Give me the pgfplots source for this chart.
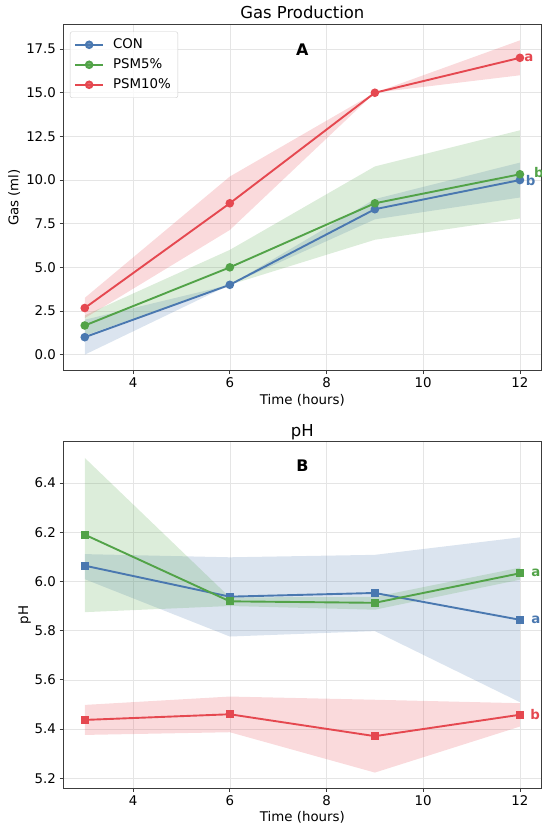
\documentclass[border=0pt]{standalone}
\usepackage{pgfplots}
\pgfplotsset{compat=1.18}
\usepackage{fontspec}
\setmainfont{DejaVu Sans}
\definecolor{cblue}{RGB}{74,120,176}
\definecolor{cgreen}{RGB}{82,163,72}
\definecolor{cred}{RGB}{229,72,80}
\definecolor{spine}{RGB}{60,60,60}
\begin{document}
\begin{tikzpicture}[x=1bp,y=1bp]
\useasboundingbox (0,0) rectangle (550,-830);
\pgfplotsset{
 myax/.style={
  scale only axis, width=478.7bp, height=346.4bp,
  xmin=2.55, xmax=12.45,
  xtick={4,6,8,10,12},
  tick align=outside, tick pos=left,
  major tick length=3.5bp,
  every tick/.style={spine, line width=0.8bp},
  axis line style={spine, line width=1.0bp},
  grid=major,
  major grid style={black!10, line width=0.6bp},
  tick label style={font=\fontsize{13.4}{15}\selectfont},
  /pgf/number format/assume math mode=true,
  xlabel={Time (hours)},
  xlabel style={font=\fontsize{13.4}{15}\selectfont, at={(axis description cs:0.5,0)}, anchor=base, yshift=-33.5bp},
  title style={font=\fontsize{16.5}{19}\selectfont, at={(axis description cs:0.5,1)}, anchor=base, yshift=-0.5bp},
  legend image code/.code={\draw[mark repeat=2,mark phase=2,#1] plot coordinates {(0bp,0bp) (14bp,0bp) (28bp,0bp)};},
 },
}
% ---------- Gas production ----------
\begin{axis}[myax,
  at={(63bp,-370.7bp)}, anchor=south west,
  ymin=-0.92, ymax=18.92,
  ytick={0,2.5,5,7.5,10,12.5,15,17.5},
  yticklabel style={/pgf/number format/.cd, fixed, fixed zerofill, precision=1},
  title={Gas Production},
  ylabel={Gas (ml)},
  ylabel style={font=\fontsize{13.4}{15}\selectfont, at={(axis description cs:-0.102,0.5)}, anchor=center},
  legend style={at={(axis description cs:0.0146,0.979)}, anchor=north west,
    draw=black!20, rounded corners=2bp, fill=white, fill opacity=0.8, text opacity=1, draw opacity=1,
    font=\fontsize{13.4}{15}\selectfont, inner xsep=4bp, inner ysep=6.5bp, row sep=7bp,
    /tikz/every odd column/.style={column sep=6bp},
    nodes={inner ysep=0bp, inner xsep=3bp, text height=10bp, text depth=3bp}},
  legend cell align=left,
]
\addplot[draw=none, fill=cblue, fill opacity=0.2, forget plot] coordinates {(3,2.0)(6,4.0)(9,8.91)(12,11.0)(12,9.0)(9,7.75)(6,4.0)(3,0.0)} -- cycle;
\addplot[draw=none, fill=cgreen, fill opacity=0.2, forget plot] coordinates {(3,2.25)(6,6.0)(9,10.78)(12,12.85)(12,7.8)(9,6.58)(6,4.0)(3,1.09)} -- cycle;
\addplot[draw=none, fill=cred, fill opacity=0.2, forget plot] coordinates {(3,3.25)(6,10.2)(9,15.0)(12,18.0)(12,16.0)(9,15.0)(6,7.14)(3,2.09)} -- cycle;
\addplot[cblue, line width=1.9bp, mark=*, mark size=3.3bp] coordinates {(3,1.0)(6,4.0)(9,8.33)(12,10.0)};
\addlegendentry{CON}
\addplot[cgreen, line width=1.9bp, mark=*, mark size=3.3bp] coordinates {(3,1.67)(6,5.0)(9,8.67)(12,10.33)};
\addlegendentry{PSM5\%}
\addplot[cred, line width=1.9bp, mark=*, mark size=3.3bp] coordinates {(3,2.67)(6,8.67)(9,15.0)(12,17.0)};
\addlegendentry{PSM10\%}
\node[font=\fontsize{16}{19}\selectfont\bfseries, anchor=center] at (axis description cs:0.5,0.928) {A};
\node[font=\fontsize{13.4}{15}\selectfont\bfseries, text=cred, anchor=west, inner sep=0pt] at (axis cs:12.09,17.0) {a};
\node[font=\fontsize{13.4}{15}\selectfont\bfseries, text=cblue, anchor=west, inner sep=0pt] at (axis cs:12.12,10.0) {b};
\node[font=\fontsize{13.4}{15}\selectfont\bfseries, text=cgreen, anchor=west, inner sep=0pt] at (axis cs:12.29,10.43) {b};
\end{axis}
% ---------- pH ----------
\begin{axis}[myax,
  at={(63bp,-788.3bp)}, anchor=south west,
  ymin=5.159, ymax=6.567,
  ytick={5.2,5.4,5.6,5.8,6.0,6.2,6.4},
  yticklabel style={/pgf/number format/.cd, fixed, fixed zerofill, precision=1},
  title={pH},
  ylabel={pH},
  ylabel style={font=\fontsize{13.4}{15}\selectfont, at={(axis description cs:-0.080,0.5)}, anchor=center},
]
\addplot[draw=none, fill=cblue, fill opacity=0.2, forget plot] coordinates {(3,6.111)(6,6.098)(9,6.108)(12,6.179)(12,5.509)(9,5.798)(6,5.776)(3,6.009)} -- cycle;
\addplot[draw=none, fill=cgreen, fill opacity=0.2, forget plot] coordinates {(3,6.502)(6,5.935)(9,5.937)(12,6.056)(12,6.007)(9,5.885)(6,5.900)(3,5.875)} -- cycle;
\addplot[draw=none, fill=cred, fill opacity=0.2, forget plot] coordinates {(3,5.498)(6,5.532)(9,5.519)(12,5.505)(12,5.410)(9,5.223)(6,5.387)(3,5.376)} -- cycle;
\addplot[cblue, line width=1.9bp, mark=square*, mark size=3.2bp] coordinates {(3,6.064)(6,5.938)(9,5.953)(12,5.844)};
\addplot[cgreen, line width=1.9bp, mark=square*, mark size=3.2bp] coordinates {(3,6.190)(6,5.919)(9,5.913)(12,6.033)};
\addplot[cred, line width=1.9bp, mark=square*, mark size=3.2bp] coordinates {(3,5.437)(6,5.460)(9,5.371)(12,5.458)};
\node[font=\fontsize{16}{19}\selectfont\bfseries, anchor=center] at (axis description cs:0.5,0.932) {B};
\node[font=\fontsize{13.4}{15}\selectfont\bfseries, text=cgreen, anchor=west, inner sep=0pt] at (axis cs:12.23,6.033) {a};
\node[font=\fontsize{13.4}{15}\selectfont\bfseries, text=cblue, anchor=west, inner sep=0pt] at (axis cs:12.23,5.844) {a};
\node[font=\fontsize{13.4}{15}\selectfont\bfseries, text=cred, anchor=west, inner sep=0pt] at (axis cs:12.21,5.458) {b};
\end{axis}
\end{tikzpicture}
\end{document}
